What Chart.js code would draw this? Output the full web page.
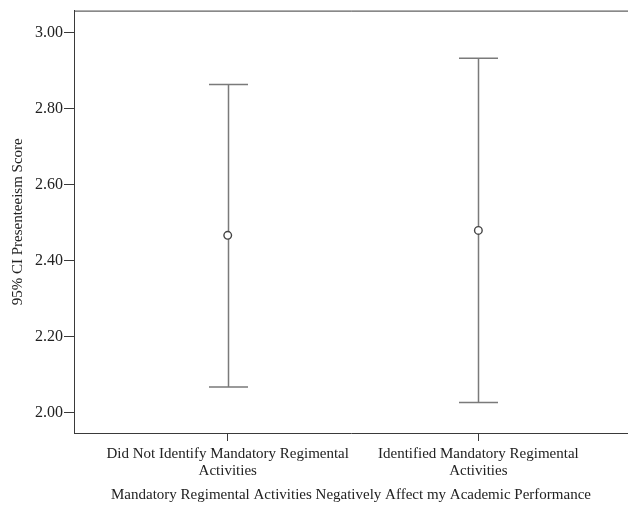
<!DOCTYPE html>
<html><head><meta charset="utf-8">
<script src="https://cdn.jsdelivr.net/npm/chart.js@4"></script>
<style>html,body{margin:0;padding:0;background:#fff;}#wrap{width:628px;height:506px;position:relative;}</style>
</head><body><div id="wrap"><canvas id="c" width="628" height="506"></canvas></div>
<script>
const categoryLabels = [["Did Not Identify Mandatory Regimental","Activities"],["Identified Mandatory Regimental","Activities"]];
const categoryPos = [1, 2];
const means = [2.467, 2.480];
const lowerCI = [2.068, 2.027];
const upperCI = [2.864, 2.933];
const yTicks = [2.00, 2.20, 2.40, 2.60, 2.80, 3.00];
const yTitle = "95% CI Presenteeism Score";
const xTitle = "Mandatory Regimental Activities Negatively Affect my Academic Performance";

const FONT = "'Liberation Serif', 'Times New Roman', serif";
const AXIS = "#3a3a3a";
const BAR = "#7a7a7a";

const errorBars = {
  id: 'errorBars',
  beforeDatasetsDraw(chart) {
    const {ctx, scales:{x, y}, chartArea:a} = chart;
    ctx.save();
    ctx.strokeStyle = AXIS; ctx.lineWidth = 1;
    ctx.beginPath();
    ctx.moveTo(a.left + 0.5, a.bottom); ctx.lineTo(a.left + 0.5, a.top + 0.5);
    ctx.lineTo(chart.width, a.top + 0.5);
    ctx.stroke();
    ctx.strokeStyle = BAR; ctx.lineWidth = 1.5;
    const half = 19.5;
    for (let i = 0; i < categoryPos.length; i++) {
      const px = Math.round(x.getPixelForValue(categoryPos[i])) + 0.5;
      const pl = y.getPixelForValue(lowerCI[i]);
      const pu = y.getPixelForValue(upperCI[i]);
      ctx.beginPath();
      ctx.moveTo(px, pl); ctx.lineTo(px, pu);
      ctx.moveTo(px - half, pu); ctx.lineTo(px + half, pu);
      ctx.moveTo(px - half, pl); ctx.lineTo(px + half, pl);
      ctx.stroke();
    }
    ctx.restore();
  }
};

new Chart(document.getElementById('c'), {
  type: 'scatter',
  data: {
    datasets: [{
      data: categoryPos.map((p, i) => ({x: p, y: means[i]})),
      pointStyle: 'circle',
      pointRadius: 3.8,
      pointBackgroundColor: '#ffffff',
      pointBorderColor: '#444444',
      pointBorderWidth: 1.4,
      pointHoverRadius: 3.8
    }]
  },
  options: {
    responsive: false,
    animation: false,
    events: [],
    layout: {autoPadding: false, padding: {top: 10, right: 0, left: 0, bottom: 0}},
    plugins: {legend: {display: false}, tooltip: {enabled: false}},
    scales: {
      x: {
        type: 'linear',
        min: 0.3867, max: 2.597,
        afterBuildTicks(s) { s.ticks = categoryPos.map(v => ({value: v})); },
        afterFit(s) { s.height = 73; },
        border: {display: true, color: AXIS, width: 1},
        grid: {display: true, drawOnChartArea: false, drawTicks: true, tickLength: 8, color: AXIS, tickColor: AXIS},
        ticks: {
          callback: (v) => categoryLabels[categoryPos.indexOf(v)],
          color: '#222', font: {family: FONT, size: 15, lineHeight: 1.1}, padding: 5, maxRotation: 0, autoSkip: false
        },
        title: {display: true, text: xTitle, color: '#222', font: {family: FONT, size: 15}, padding: {top: 4, bottom: 2}}
      },
      y: {
        type: 'linear',
        min: 1.9466, max: 3.0586,
        afterBuildTicks(s) { s.ticks = yTicks.map(v => ({value: v})); },
        afterFit(s) { s.width = 74; },
        border: {display: true, color: AXIS, width: 1},
        grid: {display: true, drawOnChartArea: false, drawTicks: true, tickLength: 10, color: AXIS, tickColor: AXIS},
        ticks: {
          callback: (v) => Number(v).toFixed(2),
          color: '#222', font: {family: FONT, size: 16}, padding: 1, autoSkip: false
        },
        title: {display: true, text: yTitle, color: '#222', font: {family: FONT, size: 15}, padding: {top: 9, bottom: 0}}
      }
    }
  },
  plugins: [errorBars]
});
</script></body></html>
